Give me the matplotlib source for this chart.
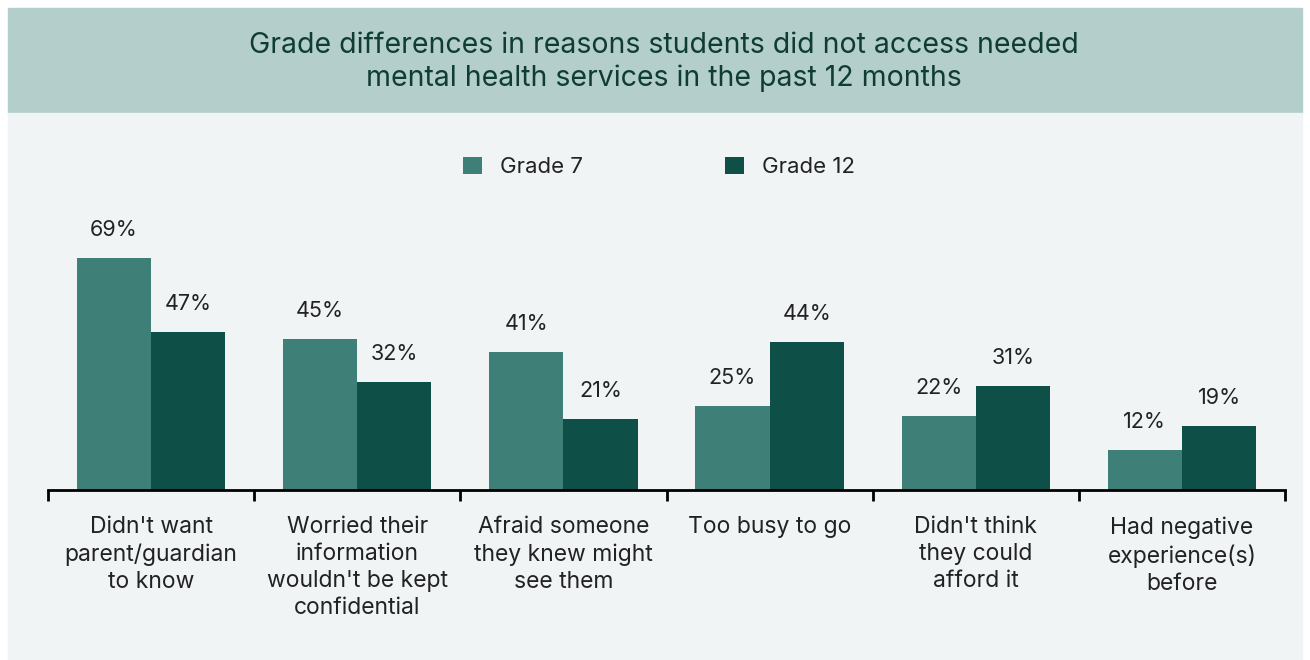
import numpy as np
import matplotlib.pyplot as plt
from matplotlib.patches import Rectangle

# data
categories = [
    "Didn't want\nparent/guardian\nto know",
    "Worried their\ninformation\nwouldn't be kept\nconfidential",
    "Afraid someone\nthey knew might\nsee them",
    "Too busy to go",
    "Didn't think\nthey could\nafford it",
    "Had negative\nexperience(s)\nbefore",
]
grade7 = [69, 45, 41, 25, 22, 12]
grade12 = [47, 32, 21, 44, 31, 19]
series_names = ["Grade 7", "Grade 12"]

c7 = "#3e7f77"
c12 = "#0e5047"
header_col = "#b3cecb"
body_col = "#f0f4f5"
title_col = "#0f3d33"
text_col = "#222222"

plt.rcParams['font.family'] = ['Inter', 'DejaVu Sans']

W, H = 1310, 660
fig = plt.figure(figsize=(W / 100, H / 100), dpi=100)
fig.patch.set_facecolor("white")

# background panels (figure pixel coords -> fraction)
fig.patches.append(Rectangle((8 / W, (H - 113) / H), (1302 - 8) / W, 105 / H,
                             transform=fig.transFigure, color=header_col, zorder=-5))
fig.patches.append(Rectangle((8 / W, 0), (1302 - 8) / W, (H - 113) / H,
                             transform=fig.transFigure, color=body_col, zorder=-5))

fig.text(664 / W, 1 - 62 / H,
         "Grade differences in reasons students did not access needed\nmental health services in the past 12 months",
         ha="center", va="center", fontsize=20.5, color=title_col, linespacing=1.25)

# axes
left, right = 48 / W, 1285 / W
base = (H - 490) / H
ymax = 80
top_px = 490 - ymax * 3.36
ax = fig.add_axes([left, base, right - left, (490 - top_px) / H])
ax.set_facecolor("none")

n = len(categories)
x = np.arange(n)
bw = 0.36
b1 = ax.bar(x - bw / 2, grade7, bw, color=c7, label=series_names[0])
b2 = ax.bar(x + bw / 2, grade12, bw, color=c12, label=series_names[1])

for bars, vals in [(b1, grade7), (b2, grade12)]:
    for b, v in zip(bars, vals):
        ax.annotate(f"{v}%", (b.get_x() + b.get_width() / 2, v),
                    xytext=(0, 13), textcoords="offset points",
                    ha="center", va="bottom", fontsize=15.5, color=text_col)

ax.set_xlim(-0.5, n - 0.5)
ax.set_ylim(0, ymax)
for s in ["top", "right", "left"]:
    ax.spines[s].set_visible(False)
ax.spines["bottom"].set_linewidth(2)
ax.spines["bottom"].set_color("black")
ax.set_yticks([])

ax.set_xticks(np.arange(-0.5, n, 1.0), minor=False)
ax.set_xticklabels([])
ax.tick_params(axis="x", which="major", length=8, width=2, color="black")
ax.set_xticks(x, minor=True)
ax.set_xticklabels(categories, minor=True, fontsize=16.5, color=text_col,
                   linespacing=1.29, va="top")
ax.tick_params(axis="x", which="minor", length=0, pad=19)

leg = fig.legend(handles=[b1, b2], labels=series_names, loc="center",
                 bbox_to_anchor=(659 / W, 1 - 167 / H), ncol=2, frameon=False,
                 fontsize=16, handlelength=0.85, handleheight=0.85,
                 columnspacing=6.4, handletextpad=0.8)
for t in leg.get_texts():
    t.set_color(text_col)

fig.savefig("out.png", dpi=100)
